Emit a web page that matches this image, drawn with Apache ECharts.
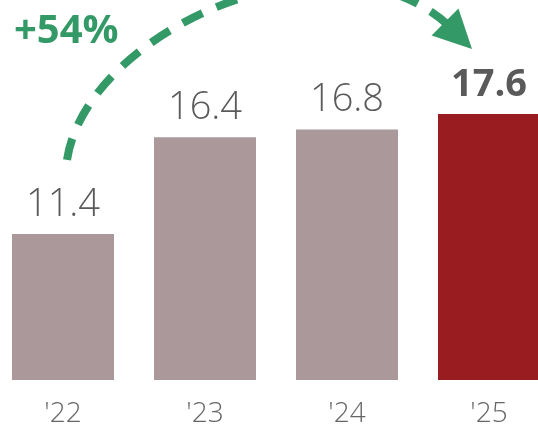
<!DOCTYPE html>
<html>
<head>
<meta charset="utf-8">
<script src="https://cdn.jsdelivr.net/npm/echarts@6/dist/echarts.min.js"></script>
<style>
html,body{margin:0;padding:0;background:#fff;}
#main{width:538px;height:427px;}
</style>
</head>
<body>
<div id="main"></div>
<script>
var categories = ["'22", "'23", "'24", "'25"];
var values = [11.4, 16.4, 16.8, 17.6];
var growthLabel = '+54%';

var greyBar = '#aa989b';
var redBar = '#981c20';
var green = '#339966';
var textGrey = '#5a5a5a';

var chart = echarts.init(document.getElementById('main'), null, {renderer: 'canvas'});

var data = values.map(function (v, i) {
  var last = i === values.length - 1;
  return {
    value: v,
    itemStyle: {color: last ? redBar : greyBar},
    label: last ? {fontWeight: 'bold'} : {}
  };
});

chart.setOption({
  animation: false,
  grid: {left: -8, right: -22, top: 0, bottom: 47, containLabel: false, outerBoundsMode: 'none'},
  xAxis: {
    type: 'category',
    data: categories,
    axisLine: {show: false},
    axisTick: {show: false},
    axisLabel: {
      color: '#666666',
      fontFamily: 'Open Sans',
      fontSize: 28,
      fontWeight: 300,
      margin: 20
    }
  },
  yAxis: {
    type: 'value',
    min: 3.85,
    max: 23.49,
    show: false,
    splitLine: {show: false}
  },
  series: [{
    type: 'bar',
    data: data,
    barWidth: 102,
    label: {
      show: true,
      position: 'top',
      distance: 10,
      color: textGrey,
      fontFamily: 'Open Sans',
      fontSize: 38,
      fontWeight: 300,
      formatter: function (p) { return p.value.toFixed(1); }
    }
  }]
});

function bez(p0, p1, p2, p3, t) {
  var u = 1 - t;
  return [
    u*u*u*p0[0] + 3*u*u*t*p1[0] + 3*u*t*t*p2[0] + t*t*t*p3[0],
    u*u*u*p0[1] + 3*u*u*t*p1[1] + 3*u*t*t*p2[1] + t*t*t*p3[1]
  ];
}

function drawArrow() {
  var a = chart.convertToPixel({gridIndex: 0}, [categories[0], values[0]]);
  var b = chart.convertToPixel({gridIndex: 0}, [categories[3], values[3]]);
  var p0 = [a[0] + 4, a[1] - 74];
  var p3 = [b[0] - 44, b[1] - 92];
  var tip = [b[0] - 17, b[1] - 65];
  var p1 = [p0[0] + 19.5, p0[1] - 130];
  var p2 = [p3[0] - 111, p3[1] - 100.5];
  var dx = tip[0] - p3[0], dy = tip[1] - p3[1];
  var len = Math.sqrt(dx * dx + dy * dy);
  var nx = -dy / len, ny = dx / len;
  var hw = 19;
  var c1 = [p3[0] + nx * hw, p3[1] + ny * hw];
  var c2 = [p3[0] - nx * hw, p3[1] - ny * hw];
  var endPt = [p3[0] + dx / len * 4, p3[1] + dy / len * 4];
  // curve length, to make dashes land on both ends
  var L = 0, prev = p0;
  for (var i = 1; i <= 400; i++) {
    var q = bez(p0, p1, p2, endPt, i / 400);
    L += Math.sqrt((q[0]-prev[0])*(q[0]-prev[0]) + (q[1]-prev[1])*(q[1]-prev[1]));
    prev = q;
  }
  var dash = 22;
  var n = Math.round((L - dash) / 38);
  var period = (L - dash) / n;
  var gap = period - dash;
  chart.setOption({
    graphic: [
      {
        type: 'bezierCurve',
        shape: {x1: p0[0], y1: p0[1], cpx1: p1[0], cpy1: p1[1], cpx2: p2[0], cpy2: p2[1], x2: endPt[0], y2: endPt[1]},
        style: {stroke: green, lineWidth: 8, fill: null, lineDash: [dash, gap], lineCap: 'butt'},
        silent: true
      },
      {
        type: 'polygon',
        shape: {points: [tip, c1, c2]},
        style: {fill: green},
        silent: true
      },
      {
        type: 'text',
        left: 14,
        top: 12,
        style: {
          text: growthLabel,
          fill: green,
          fontFamily: 'Open Sans',
          fontSize: 40,
          fontWeight: 'bold'
        },
        silent: true
      }
    ]
  });
}
drawArrow();
</script>
</body>
</html>
